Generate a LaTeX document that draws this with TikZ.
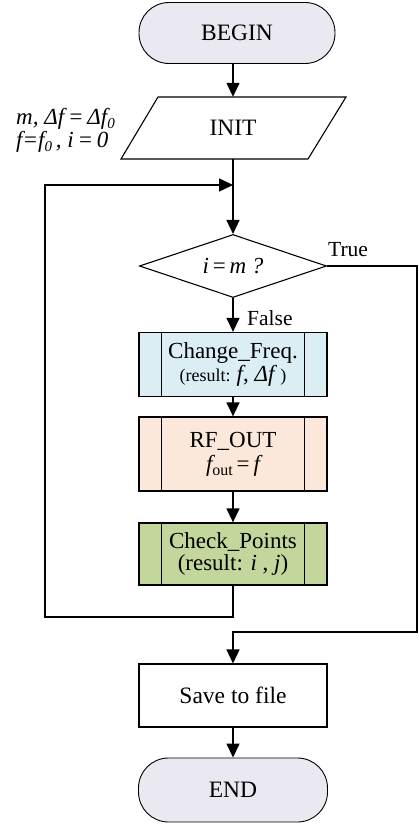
\documentclass[tikz,border=0pt]{standalone}
\usepackage{fontspec}
\setmainfont{Liberation Serif}
\usetikzlibrary{arrows.meta,shapes.geometric,calc}

\definecolor{termfill}{HTML}{EAE8F1}
\definecolor{freqfill}{HTML}{DAEEF3}
\definecolor{rffill}{HTML}{FCE8DA}
\definecolor{chkfill}{HTML}{C3D69B}

\tikzset{
  flow/.style={line width=1.4pt},
  arr/.style={flow, -{Triangle[length=14pt,width=13pt]}},
  term/.style={draw, line width=0.9pt, fill=termfill, rectangle,
    rounded corners=30pt, minimum width=196pt, minimum height=61pt,
    font=\fontsize{23.5}{26}\selectfont},
  proc/.style={draw, line width=1.3pt, rectangle, minimum width=188pt,
    inner sep=0pt, align=center, font=\fontsize{23}{26}\selectfont},
  plain/.style={draw, line width=1.1pt, rectangle, minimum width=188pt,
    minimum height=63pt, font=\fontsize{23.5}{26}\selectfont},
  decide/.style={draw, line width=1.1pt, diamond, shape aspect=3, inner sep=0pt,
    minimum width=187pt, minimum height=63pt, font=\fontsize{23}{26}\selectfont},
  lbl/.style={font=\fontsize{21.5}{24}\selectfont, inner sep=0pt},
}

% vertical bars of a predefined-process box
\newcommand{\sidebars}[1]{%
  \draw[line width=1.1pt] ([xshift=23pt]#1.north west) -- ([xshift=23pt]#1.south west);
  \draw[line width=1.1pt] ([xshift=-23pt]#1.north east) -- ([xshift=-23pt]#1.south east);}

\begin{document}
\begin{tikzpicture}[x=1pt,y=-1pt]
  \useasboundingbox (0,0) rectangle (418,824);

  % start
  \node[term] (begin) at (237,33) {BEGIN};

  % initialisation (parallelogram)
  \draw[line width=1.1pt] (158,97) -- (346,97) -- (308,159) -- (121,159) -- cycle;
  \node[minimum height=62pt, minimum width=10pt, inner sep=0pt,
        font=\fontsize{23.5}{26}\selectfont] (init) at (233,128) {INIT};
  \node[inner sep=0pt, align=left, anchor=west, font=\fontsize{23}{23}\selectfont\itshape]
    (initlbl) at (16,130.5)
    {m, Δf\,=\,Δf\raisebox{-0.35ex}{\fontsize{15}{15}\selectfont 0}\\
     f=f\raisebox{-0.35ex}{\fontsize{15}{15}\selectfont 0}\,, i\,=\,0};

  % loop test
  \node[decide] (dia) at (233,266) {\itshape i\,\textup{=}\,m ?};

  % loop body
  \node[proc, fill=freqfill, minimum height=64pt] (chg) at (233,364.5)
    {Change\_Freq.\\[-3pt]
     {\fontsize{18}{20}\selectfont (result: }{\itshape f}, {\itshape Δf }{\fontsize{18}{20}\selectfont )}};
  \sidebars{chg}
  \node[proc, fill=rffill, minimum height=74pt] (rf) at (233,454)
    {RF\_OUT\\[-2pt]
     {\itshape f}\raisebox{-0.4ex}{\fontsize{16}{16}\selectfont out}\,=\,{\itshape f}};
  \sidebars{rf}
  \node[proc, fill=chkfill, minimum height=62pt] (chk) at (233,554)
    {Check\_Points\\[-4pt] (result: {\itshape i} , {\itshape j})};
  \sidebars{chk}

  % after the loop
  \node[plain] (save) at (233,695.5) {Save to file};
  \node[term, minimum width=189pt, minimum height=64pt] (end) at (233,790) {END};

  % helper points of the routed connectors
  \coordinate (lb) at (233,617);
  \coordinate (lj) at (233,185);
  \coordinate (lx) at (45,185);
  \coordinate (tr) at (417,266);
  \coordinate (sv) at (233,632);

  % connectors
  \draw[arr] (233,63.5) -- (init.north);
  \draw[arr] (init.south) -- (dia.north);
  \draw[arr] (dia.south) -- (chg.north);
  \draw[arr] (chg.south) -- (rf.north);
  \draw[arr] (rf.south) -- (chk.north);
  \draw[arr] (chk.south) -- (lb) -| (lx) -- (lj);
  \draw[arr] (dia.east) -- (tr) |- (sv) -- (save.north);
  \draw[arr] (save.south) -- (end.north);

  % branch labels
  \node[lbl, anchor=west] (ltrue) at (328,250) {True};
  \node[lbl, anchor=west] (lfalse) at (247,318) {False};
\end{tikzpicture}
\end{document}
